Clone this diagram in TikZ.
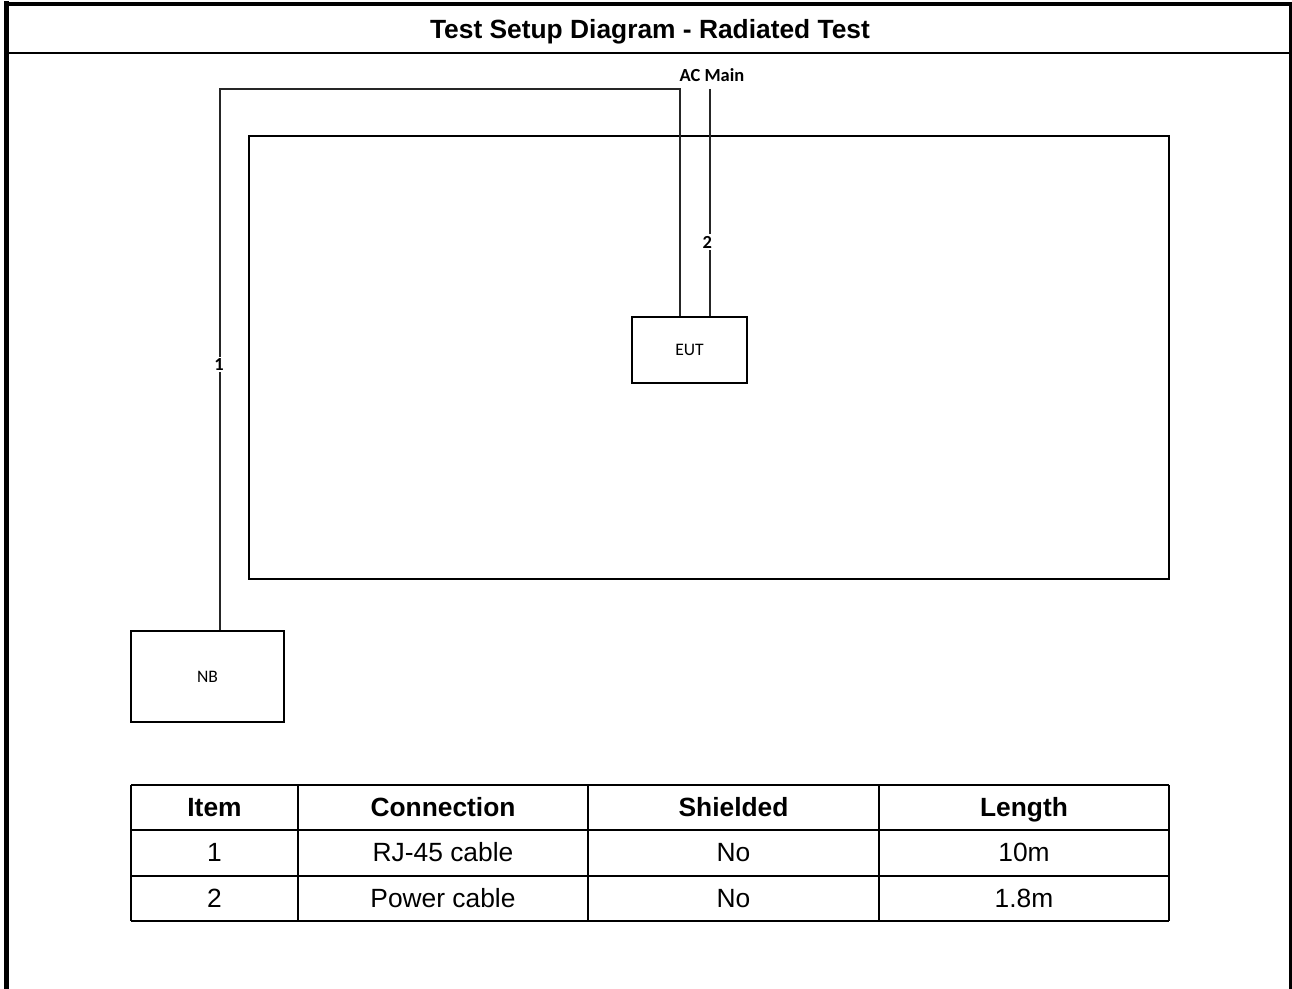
\documentclass[tikz,border=0pt]{standalone}
\usepackage{fontspec}
\setmainfont{Liberation Sans}
\newfontfamily\calibri{Carlito}
\usetikzlibrary{positioning}

\begin{document}
\begin{tikzpicture}[x=0.02cm,y=-0.02cm,
  box/.style={draw,line width=1.6pt,inner sep=0pt,font=\calibri\fontsize{10}{12}\selectfont},
  cable/.style={draw=black!85,line width=0.8pt},
  num/.style={fill=white,inner sep=1pt,font=\calibri\bfseries\fontsize{10.5}{12}\selectfont},
  tabline/.style={line width=1.5pt},
  cell/.style={font=\fontsize{15}{18}\selectfont,text height=13pt,text depth=3pt},
  head/.style={cell,font=\bfseries\fontsize{15}{18}\selectfont}]
  \useasboundingbox (0,0) rectangle (1292,989);

  % frame and title
  \draw[line width=2.8pt] (6.5,989) -- (6.5,1.5);
  \draw[line width=2.3pt] (4,4) -- (1292,4);
  \draw[line width=1.4pt] (1290.5,2) -- (1290.5,989);
  \draw[line width=1.1pt] (6,53) -- (1290,53);
  \node[font=\bfseries\fontsize{15}{18}\selectfont] (title) at (650,32) {Test Setup Diagram - Radiated Test};

  % test area, EUT and NB
  \node[box,minimum width=18.4cm,minimum height=8.86cm] (room) at (709,357.5) {};
  \node[box,minimum width=2.3cm,minimum height=1.32cm] (eut) at (689.5,350) {EUT};
  \node[box,minimum width=3.06cm,minimum height=1.82cm] (nb) at (207.5,676.5) {NB};

  % cables
  \coordinate (c1top) at (220,89);
  \coordinate (c1turn) at (680,89);
  \coordinate (acend) at (710,89);
  \node[font=\calibri\bfseries\fontsize{10.5}{12}\selectfont] (acmain) at (712,75) {AC Main};
  \draw[cable] (nb.north -| c1top) -- node[num,pos=0.49,xshift=-0.5pt] {1} (c1top) -- (c1turn) -- (c1turn |- eut.north);
  \draw[cable] (acend) -- node[num,pos=0.675,xshift=-1.5pt] {2} (acend |- eut.north);

  % table
  \foreach \y in {785,830,876,921}
    \draw[tabline] (131,\y) -- (1169,\y);
  \foreach \x in {131,298,588,879,1169}
    \draw[tabline] (\x,785) -- (\x,921);
  \foreach \x/\t [count=\i] in {214.5/Item,443/Connection,733.5/Shielded,1024/Length}
    \node[head] (h\i) at (\x,807.5) {\t};
  \foreach \y/\a/\b/\c/\d [count=\r] in {853/1/RJ-45 cable/No/10m,898.5/2/Power cable/No/1.8m} {
    \node[cell] (r\r a) at (214.5,\y) {\a};
    \node[cell] (r\r b) at (443,\y) {\b};
    \node[cell] (r\r c) at (733.5,\y) {\c};
    \node[cell] (r\r d) at (1024,\y) {\d};
  }
\end{tikzpicture}
\end{document}
